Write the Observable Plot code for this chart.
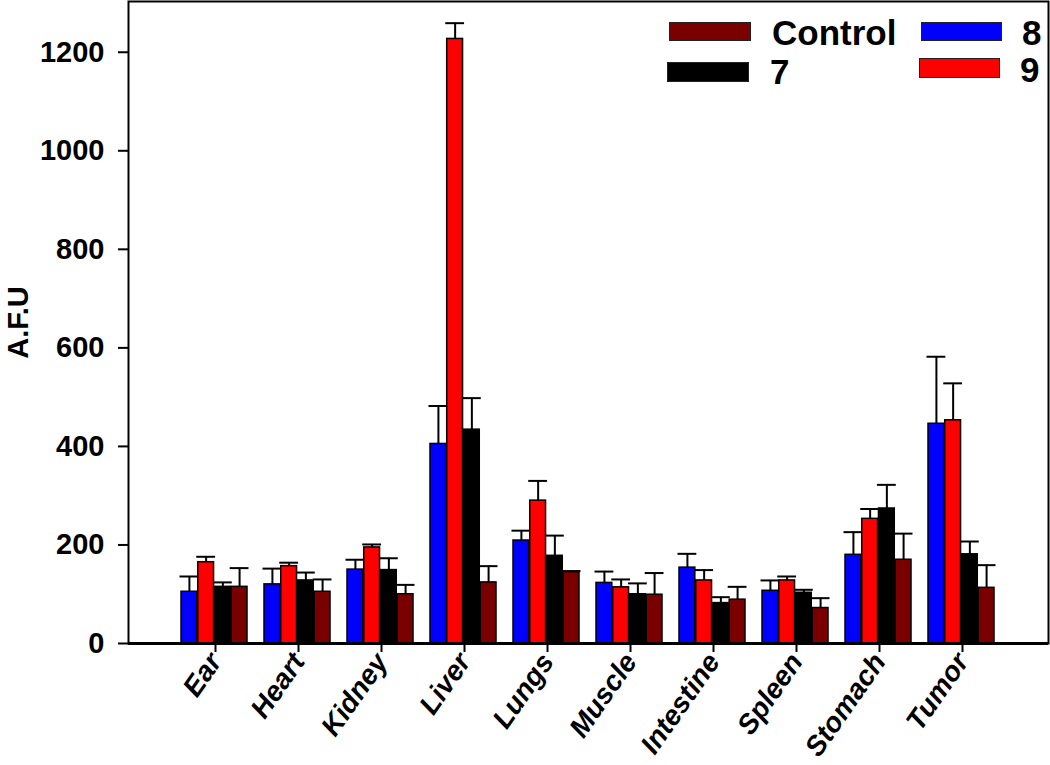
<!DOCTYPE html>
<html><head><meta charset="utf-8">
<script src="https://cdn.jsdelivr.net/npm/d3@7"></script>
<script src="https://cdn.jsdelivr.net/npm/@observablehq/plot@0.6"></script>
<style>
body{margin:0;background:#fff;}
#wrap{position:relative;width:1050px;height:765px;font-family:"Liberation Sans",Arial,sans-serif;font-weight:bold;}
.sw{position:absolute;box-sizing:border-box;border:1.5px solid #222;}
.lt{position:absolute;font-size:35px;line-height:35px;color:#000;white-space:nowrap;}
</style></head><body><div id="wrap"></div>
<script>
// ---- data ----
const organs = ["Ear","Heart","Kidney","Liver","Lungs","Muscle","Intestine","Spleen","Stomach","Tumor"];
const seriesNames = ["8","9","7","Control"];
const seriesColors = ["#0000ff","#ff0000","#000000","#7a0000"];
const mean8 = [105,120,150,405,209,123,154,107,180,446];
const err8 = [31,32,20,77,20,23,28,21,46,136];
const mean9 = [165,157,195,1227,290,114,128,128,253,453];
const err9 = [11,7,6,32,40,16,21,8,20,75];
const mean7 = [115,128,149,434,178,100,82,103,274,181];
const err7 = [9,16,24,64,41,22,12,6,48,26];
const meanControl = [115,105,100,124,145,99,89,72,170,113];
const errControl = [38,25,19,33,2,44,26,20,53,46];
const yTicks = [0,200,400,600,800,1000,1200];

const means = [mean8, mean9, mean7, meanControl];
const errs = [err8, err9, err7, errControl];
const rows = [];
seriesNames.forEach((s, j) => organs.forEach((o, i) => rows.push({organ: o, series: s, j, mean: means[j][i], err: errs[j][i]})));

// ---- layout ----
const W = 1050, H = 765;
const xOpts = {type: "band", domain: organs, paddingInner: 0.2, paddingOuter: 0.6, align: 0.5};
const xs = Plot.scale({x: {...xOpts, range: [128, W - 2]}});
const q = xs.bandwidth / seriesNames.length;
const font = "Liberation Sans, Arial, sans-serif";

const marks = [];
seriesNames.forEach((s, j) => {
  const d = rows.filter(r => r.series === s);
  const n = seriesNames.length;
  marks.push(Plot.barY(d, {x: "organ", y: "mean", fill: seriesColors[j], stroke: "#000", strokeWidth: 1.5,
    insetLeft: j * q, insetRight: (n - 1 - j) * q}));
  marks.push(Plot.ruleX(d, {x: "organ", y1: "mean", y2: r => r.mean + r.err, stroke: "#000", strokeWidth: 2,
    dx: (j - (n - 1) / 2) * q}));
  marks.push(Plot.tickY(d, {x: "organ", y: r => r.mean + r.err, stroke: "#000", strokeWidth: 2,
    insetLeft: j * q - 1.5, insetRight: (n - 1 - j) * q - 1.5}));
});

const chart = Plot.plot({
  width: W, height: H,
  marginLeft: 128, marginRight: 2, marginTop: 1, marginBottom: 122,
  style: {fontFamily: font, fontSize: "30px", fontWeight: "bold", background: "#fff", color: "#000", overflow: "visible"},
  x: {domain: organs, paddingInner: 0.2, paddingOuter: 0.6, align: 0.5},
  y: {domain: [0, 1303]},
  marks: [
    ...marks,
    Plot.frame({stroke: "#000", strokeWidth: 2}),
    Plot.ruleY([0], {stroke: "#000", strokeWidth: 3}),
    Plot.axisY({ticks: yTicks, tickFormat: d => String(d), tickSize: 10, tickPadding: 14, strokeWidth: 2,
      fontSize: 29, fontWeight: "bold",
      label: "A.F.U", labelAnchor: "center", labelOffset: 121, labelArrow: false}),
    Plot.axisX({tickSize: 9, tickPadding: 4, tickRotate: -55, strokeWidth: 2, fontSize: 28, fontWeight: "bold",
      fontStyle: "italic", label: null, dx: 1})
  ]
});
const wrap = document.getElementById("wrap");
wrap.appendChild(chart);

// ---- legend (HTML overlay) ----
const legendOrder = ["Control", "7", "8", "9"];
const legendPos = {
  "Control": {sw: [669, 22, 82, 19], tx: [772, 15]},
  "7": {sw: [667, 62, 82, 20], tx: [770, 54]},
  "8": {sw: [921, 22, 81, 19], tx: [1022, 15]},
  "9": {sw: [919, 58, 81, 20], tx: [1020, 52]}
};
legendOrder.forEach(name => {
  const j = seriesNames.indexOf(name);
  const p = legendPos[name];
  const sw = document.createElement("div");
  sw.className = "sw";
  Object.assign(sw.style, {left: p.sw[0] + "px", top: p.sw[1] + "px", width: p.sw[2] + "px", height: p.sw[3] + "px", background: seriesColors[j]});
  wrap.appendChild(sw);
  const t = document.createElement("div");
  t.className = "lt";
  t.textContent = name;
  Object.assign(t.style, {left: p.tx[0] + "px", top: p.tx[1] + "px"});
  wrap.appendChild(t);
});
</script></body></html>
